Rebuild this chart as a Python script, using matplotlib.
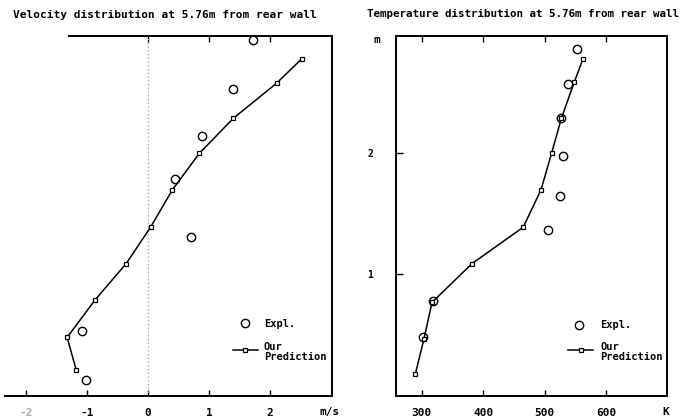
import matplotlib
matplotlib.use("Agg")
import matplotlib.pyplot as plt

plt.rcParams['font.family'] = ['DejaVu Sans Mono']
plt.rcParams['font.weight'] = 'bold'

# velocity profile (m/s) vs height (m)
vel_pred_u = [2.52, 2.11, 1.40, 0.84, 0.40, 0.04, -0.36, -0.87, -1.33, -1.18]
vel_pred_h = [2.78, 2.58, 2.29, 2.00, 1.70, 1.39, 1.09, 0.79, 0.48, 0.21]
vel_exp_u = [1.73, 1.40, 0.89, 0.44, 0.70, -1.08, -1.02]
vel_exp_h = [2.94, 2.53, 2.14, 1.79, 1.31, 0.53, 0.13]
vel_ticks = [-2, -1, 0, 1, 2]

# temperature profile (K) vs height (m)
temp_pred_T = [290, 304, 317, 382, 465, 494, 511, 527, 548, 562]
temp_pred_h = [0.18, 0.47, 0.77, 1.09, 1.39, 1.70, 2.00, 2.29, 2.59, 2.78]
temp_exp_T = [302, 318, 505, 524, 529, 527, 538, 553]
temp_exp_h = [0.48, 0.78, 1.37, 1.65, 1.98, 2.29, 2.57, 2.86]
temp_ticks = [300, 400, 500, 600]
h_ticks = [1, 2]

fig = plt.figure(figsize=(6.88, 4.2), dpi=100)

bot = (420 - 395.5) / 420
hgt = (395.5 - 36) / 420
ax1 = fig.add_axes([5 / 688, bot, 327 / 688, hgt])
ax2 = fig.add_axes([395.7 / 688, bot, 271 / 688, hgt])

pred_style = dict(color='black', lw=1.1, marker='s', ms=3.5, mfc='white', mec='black', mew=0.9)
exp_style = dict(ls='none', marker='o', ms=6, mfc='none', mec='black', mew=1.0)
unit_y = -(412 - 395.5) / 359.5

# ---- velocity
ax1.axvline(0, color='#999999', lw=0.9, ls=(0, (1, 2)))
ax1.plot(vel_pred_u, vel_pred_h, **pred_style)
ax1.plot(vel_exp_u, vel_exp_h, **exp_style)
ax1.set_xlim(-2.35, 3.02)
ax1.set_ylim(0, 2.97)
ax1.set_xticks(vel_ticks)
ax1.set_xticklabels(['-2', '-1', '0', '1', '2'], fontsize=8)
ax1.get_xticklabels()[0].set_color('#aaaaaa')
ax1.set_yticks([])
ax1.spines['left'].set_visible(False)
ax1.spines['top'].set_bounds(-1.3, 3.02)
for s in ['top', 'bottom', 'right']:
    ax1.spines[s].set_linewidth(1.4)
ax1.tick_params(axis='x', direction='in', top=True, length=4, width=1, pad=9)
ax1.xaxis.get_major_ticks()[0].tick2line.set_visible(False)
ax1.xaxis.get_major_ticks()[1].tick2line.set_visible(False)
ax1.text(0.992, unit_y, 'm/s', transform=ax1.transAxes, fontsize=8, ha='center', va='center')

# legend drawn by hand
ax1.plot([0.734], [0.201], transform=ax1.transAxes, **exp_style)
ax1.text(0.792, 0.199, 'Expl.', transform=ax1.transAxes, fontsize=7.5, va='center')
ax1.plot([0.697, 0.774], [0.127, 0.127], transform=ax1.transAxes, color='black', lw=1.1)
ax1.plot([0.735], [0.127], transform=ax1.transAxes, **pred_style)
ax1.text(0.792, 0.150, 'Our\nPrediction', transform=ax1.transAxes, fontsize=7.5,
         va='top', linespacing=1.0)

# ---- temperature
ax2.plot(temp_pred_T, temp_pred_h, **pred_style)
ax2.plot(temp_exp_T, temp_exp_h, **exp_style)
ax2.set_xlim(258, 698)
ax2.set_ylim(0, 2.97)
ax2.set_xticks(temp_ticks)
ax2.set_xticklabels([str(t) for t in temp_ticks], fontsize=8)
ax2.set_yticks(h_ticks)
ax2.set_yticklabels([str(h) for h in h_ticks], fontsize=7)
for s in ax2.spines.values():
    s.set_linewidth(1.4)
ax2.tick_params(axis='x', direction='in', top=True, length=4, width=1, pad=9)
ax2.tick_params(axis='y', direction='in', length=5, width=1, pad=16)
ax2.text(0.995, unit_y, 'K', transform=ax2.transAxes, fontsize=8, ha='center', va='center')
ax2.text(-0.07, 0.99, 'm', transform=ax2.transAxes, fontsize=8, ha='center', va='center')

ax2.plot([0.677], [0.196], transform=ax2.transAxes, **exp_style)
ax2.text(0.754, 0.196, 'Expl.', transform=ax2.transAxes, fontsize=7.5, va='center')
ax2.plot([0.636, 0.728], [0.127, 0.127], transform=ax2.transAxes, color='black', lw=1.1)
ax2.plot([0.682], [0.127], transform=ax2.transAxes, **pred_style)
ax2.text(0.754, 0.150, 'Our\nPrediction', transform=ax2.transAxes, fontsize=7.5,
         va='top', linespacing=1.0)

# titles
fig.text(317 / 688, 1 - 15 / 420, 'Velocity distribution at 5.76m from rear wall',
         fontsize=8, ha='right', va='center')
fig.text(367 / 688, 1 - 14 / 420, 'Temperature distribution at 5.76m from rear wall',
         fontsize=7.8, ha='left', va='center')

fig.savefig('out.png', dpi=100)
